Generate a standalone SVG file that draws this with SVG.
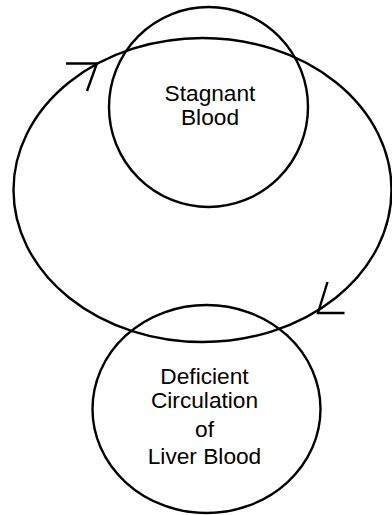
<svg xmlns="http://www.w3.org/2000/svg" width="392" height="515" viewBox="0 0 392 515">
  <style>
    .ring { fill: none; stroke: #000; stroke-width: 2.4; }
    .head { fill: none; stroke: #000; stroke-width: 2.4; stroke-linecap: butt; stroke-linejoin: miter; }
    .label { font-family: "Liberation Sans", Arial, sans-serif; font-size: 22.7px; fill: #000; text-anchor: middle; }
  </style>
  <rect width="392" height="515" fill="#fff"/>
  <!-- circulation loop with its two direction marks -->
  <g id="connectors">
    <ellipse class="ring" cx="202.5" cy="190" rx="189" ry="152"/>
    <path class="head" d="M66 63.5 H97.5 M87 91 L96.5 64.5"/>
    <path class="head" d="M327.5 282 L318 313 H344.5"/>
  </g>
  <g id="stagnant-blood">
    <ellipse class="ring" cx="208.5" cy="107" rx="99.5" ry="100"/>
    <text class="label" x="210" y="101">Stagnant</text>
    <text class="label" x="210" y="125">Blood</text>
  </g>
  <g id="deficient-circulation">
    <ellipse class="ring" cx="206.5" cy="409" rx="114" ry="104"/>
    <text class="label" x="204.5" y="384">Deficient</text>
    <text class="label" x="204.5" y="408">Circulation</text>
    <text class="label" x="204.5" y="437">of</text>
    <text class="label" x="204.5" y="464">Liver Blood</text>
  </g>
</svg>
